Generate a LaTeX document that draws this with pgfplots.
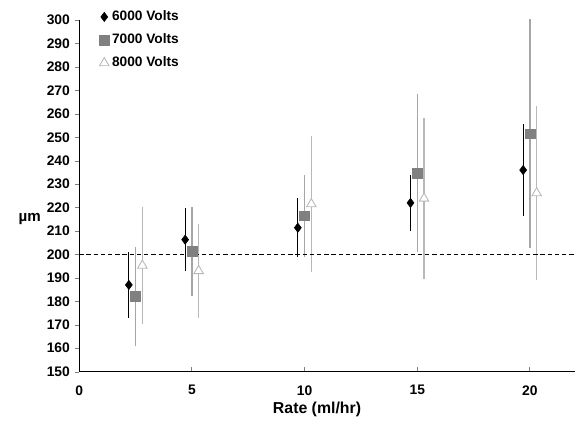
\documentclass[border=0pt]{standalone}
\usepackage{pgfplots}
\pgfplotsset{compat=1.18}
\usepackage{fontspec}
\setmainfont{Liberation Sans}
\definecolor{sqgray}{HTML}{808080}
\definecolor{bargray}{HTML}{A6A6A6}
\definecolor{trigray}{HTML}{B8B8B8}
\begin{document}
\begin{tikzpicture}
\begin{axis}[
  name=ax,
  scale only axis,
  width=344pt, height=244pt,
  xmin=0, xmax=22, ymin=150, ymax=300,
  clip=false,
  axis x line=bottom, axis y line=left,
  axis line style={-, line width=0.7pt},
  xtick={0,5,10,15,20}, ytick={150,160,...,300},
  x tick style={line width=0.6pt},
  xtick align=inside, ytick align=outside,
  major tick length=3pt,
  /pgf/number format/assume math mode=true,
  ticklabel style={font=\fontsize{9.6}{11}\selectfont\bfseries},
  xticklabel style={yshift=-6pt},
  xlabel={Rate (ml/hr)},
  xlabel style={font=\fontsize{11}{13}\selectfont\bfseries, yshift=2pt, xshift=-7pt},
  ylabel={µm},
  ylabel style={font=\fontsize{10.5}{12}\selectfont\bfseries, rotate=-90,
    at={(rel axis cs:-0.1,0.435)}, anchor=center},
  legend style={draw=none, fill=none, at={(rel axis cs:0.04,1.035)}, anchor=north west,
    font=\fontsize{9.5}{11}\selectfont\bfseries, row sep=3.6pt, inner sep=0pt},
  legend cell align=left,
  legend image code/.code={\draw[#1] plot coordinates {(0.22cm,0cm)};},
]
\addplot [black, only marks, mark=diamond*, mark size=3.2pt,
  error bars/.cd, y dir=both, y explicit, error mark=none,
  error bar style={black, line width=0.9pt}]
  table [x=x, y=y, y error=e] {
  x y e
  2.2 187 14
  4.7 206.3 13.5
  9.7 211.4 12.5
  14.7 222 12
  19.7 236 19.8
};
\addlegendentry{6000 Volts}
\addplot [sqgray, only marks, mark=square*, mark size=3.4pt,
  error bars/.cd, y dir=both, y explicit, error mark=none,
  error bar style={bargray, line width=0.9pt}]
  table [x=x, y=y, y error=e] {
  x y e
  2.5 182 21.2
  5.0 201.3 19
  10.0 216.5 17.5
  15.0 234.7 33.6
  20.0 251.5 48.8
};
\addlegendentry{7000 Volts}
\addplot [trigray, only marks, mark=triangle*, mark size=3.8pt,
  mark options={fill=white, draw=trigray, line width=0.6pt},
  error bars/.cd, y dir=both, y explicit, error mark=none,
  error bar style={trigray, line width=0.9pt}]
  table [x=x, y=y, y error=e] {
  x y e
  2.8 195.3 25
  5.3 193 20.1
  10.3 221.5 29
  15.3 223.9 34.5
  20.3 226.2 37
};
\addlegendentry{8000 Volts}
\addplot [black, densely dashed, line width=0.6pt, forget plot] coordinates {(0,200) (22,200)};
\end{axis}
\path ([xshift=-55pt, yshift=-32.6pt]ax.south west) rectangle ([xshift=0.7pt, yshift=13.9pt]ax.north east);
\end{tikzpicture}
\end{document}
